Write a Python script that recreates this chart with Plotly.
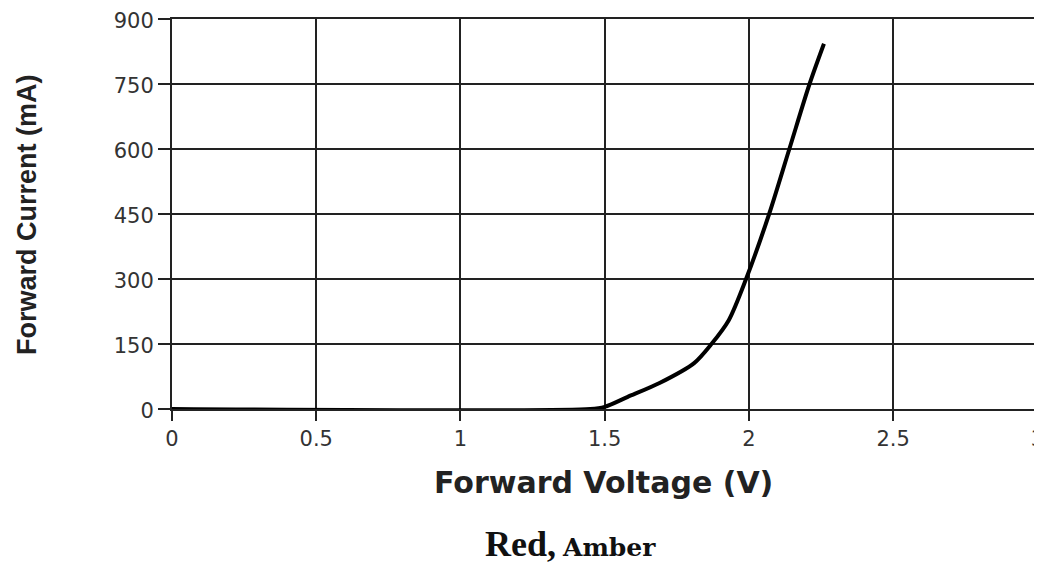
import plotly.graph_objects as go

voltage = [0, 1.45, 1.5, 1.58, 1.69, 1.81, 1.87, 1.93, 1.99, 2.07, 2.14, 2.21, 2.26]
current = [0, 0, 5, 28, 60, 106, 150, 205, 300, 450, 600, 750, 843]
x_ticks = [0, 0.5, 1, 1.5, 2, 2.5, 3]
x_tick_labels = ["0", "0.5", "1", "1.5", "2", "2.5", "3"]
y_ticks = [0, 150, 300, 450, 600, 750, 900]

fig = go.Figure()
fig.add_trace(go.Scatter(x=voltage, y=current, mode="lines",
                         line=dict(color="black", width=4, shape="spline", smoothing=0.8),
                         showlegend=False, hoverinfo="skip"))

tickfont = dict(family="DejaVu Sans", size=21, color="#333333")
fig.update_xaxes(range=[0, 3.002], tickvals=x_ticks, ticktext=x_tick_labels,
                 showgrid=True, gridcolor="#222222", gridwidth=2,
                 showline=True, linecolor="#222222", linewidth=2, mirror=True,
                 ticks="outside", ticklen=10, tickwidth=2, tickcolor="#222222",
                 tickfont=tickfont, zeroline=False, automargin=False)
fig.update_yaxes(range=[0, 900], tickvals=y_ticks,
                 showgrid=True, gridcolor="#222222", gridwidth=2,
                 showline=True, linecolor="#222222", linewidth=2, mirror=True,
                 ticks="outside", ticklen=12, tickwidth=2, tickcolor="#222222",
                 tickfont=tickfont, zeroline=False, ticklabelshift=2, automargin=False)

# page offset of 8px (body margin) is compensated in the margins
OFF = 8
W, H = 1042, 565
l, r, t, b = 172 - OFF, 12, 19 - OFF, 565 - 409 + OFF
pw, ph = W - l - r, H - t - b

def px_to_paper(px, py):
    return (px - OFF - l) / pw, (H - b - (py - OFF)) / ph

annots = []
for text, px, py, font, angle in [
    ("<b>Forward Voltage (V)</b>", 603, 482,
     dict(family="DejaVu Sans", size=30, color="#222222"), 0),
    ("<b>Forward Current (mA)</b>", 27, 215,
     dict(family="Liberation Sans", size=27, color="#222222"), -90),
    ("<span style='font-family:Liberation Serif;font-size:36px'><b>Red,</b></span> "
     "<span style='font-family:DejaVu Serif;font-size:25px'><b>Amber</b></span>", 570, 544,
     dict(family="Liberation Serif", size=28, color="#111111"), 0),
]:
    x, y = px_to_paper(px, py)
    annots.append(dict(text=text, x=x, y=y, xref="paper", yref="paper", showarrow=False,
                       font=font, textangle=angle, xanchor="center", yanchor="middle"))

fig.update_layout(
    width=W, height=H,
    margin=dict(l=l, r=r, t=t, b=b, autoexpand=False),
    plot_bgcolor="white", paper_bgcolor="white",
    annotations=annots,
)

fig.write_html("out.html")
